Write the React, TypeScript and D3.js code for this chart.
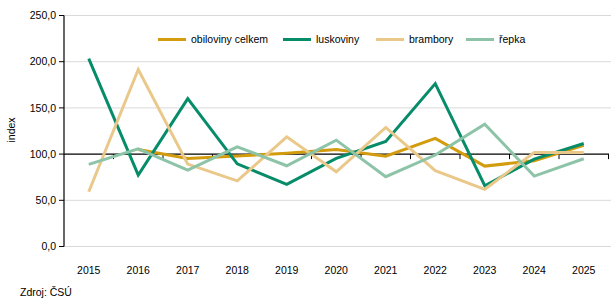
import React from "react";
import * as d3 from "d3";

const years = ["2015", "2016", "2017", "2018", "2019", "2020", "2021", "2022", "2023", "2024", "2025"];
const obiloviny: (number | null)[] = [null, 105, 95.3, 98, 101, 105, 97.8, 117, 87, 92.8, 109.4];
const luskoviny: (number | null)[] = [203.3, 77.3, 160.1, 89.5, 67.2, 95.3, 113.7, 176.3, 65.8, 94.6, 111.5];
const brambory: (number | null)[] = [59.3, 191.5, 89.2, 71, 118.7, 80.9, 128.8, 82, 61.9, 101.8, 101.8];
const repka: (number | null)[] = [88.9, 105.7, 82.7, 107.9, 87.4, 115.1, 75.5, 99, 132.4, 76.2, 95];
const seriesNames = ["obiloviny celkem", "luskoviny", "brambory", "řepka"];
const yTicks = [0, 50, 100, 150, 200, 250];

const colors = ["#D39B0E", "#078C69", "#EAC88A", "#8DC4A8"];
const seriesData = [obiloviny, luskoviny, brambory, repka];

export default function App() {
  const W = 614, H = 305;
  const x = d3.scaleBand<string>().domain(years).range([64, 608.5]);
  const y = d3.scaleLinear().domain([0, 250]).range([246.5, 15.5]);
  const line = d3
    .line<number | null>()
    .defined((d) => d !== null)
    .x((_, i) => (x(years[i]) as number) + x.bandwidth() / 2)
    .y((d) => y(d as number));
  const font = "'Liberation Sans', Arial, sans-serif";
  const legendX = [158, 283, 376, 466];
  const fmt = (v: number) => v.toFixed(1).replace(".", ",");
  const boundaries = years.map((_, i) => 64 + x.step() * (i + 1));

  return (
    <svg width={W} height={H} style={{ position: "absolute", left: 0, top: 0, background: "#fff" }} fontFamily={font}>
      {yTicks.map((t) => (
        <g key={t}>
          {t !== 100 && <line x1={64} x2={611} y1={y(t)} y2={y(t)} stroke="#d9d9d9" strokeWidth={1} />}
          <line x1={59} x2={64} y1={y(t)} y2={y(t)} stroke="#000" strokeWidth={1} />
          <text x={56} y={y(t)} dy="0.35em" textAnchor="end" fontSize={10.5} fill="#000">
            {fmt(t)}
          </text>
        </g>
      ))}
      <line x1={64} x2={64} y1={y(250)} y2={y(0)} stroke="#000" strokeWidth={1.2} />
      <line x1={64} x2={609} y1={y(100)} y2={y(100)} stroke="#000" strokeWidth={1.2} />
      {boundaries.map((b, i) => (
        <line key={i} x1={b} x2={b} y1={y(100)} y2={y(100) + 5} stroke="#000" strokeWidth={1} />
      ))}
      {years.map((yr) => (
        <text key={yr} x={(x(yr) as number) + x.bandwidth() / 2} y={270} dy="0.35em" textAnchor="middle" fontSize={10.5} fill="#000">
          {yr}
        </text>
      ))}
      {seriesData.map((s, i) => (
        <path key={i} d={line(s) || ""} fill="none" stroke={colors[i]} strokeWidth={3} strokeLinejoin="miter" />
      ))}
      {seriesNames.map((n, i) => (
        <g key={n}>
          <line x1={legendX[i]} x2={legendX[i] + 28} y1={39.5} y2={39.5} stroke={colors[i]} strokeWidth={3} />
          <text x={legendX[i] + 33} y={39.5} dy="0.35em" fontSize={10.5} fill="#000">
            {n}
          </text>
        </g>
      ))}
      <text transform="translate(15,130) rotate(-90)" textAnchor="middle" fontSize={10.5} fill="#000">
        index
      </text>
      <text x={20} y={296} fontSize={10.5} fill="#000">
        Zdroj: ČSÚ
      </text>
    </svg>
  );
}
